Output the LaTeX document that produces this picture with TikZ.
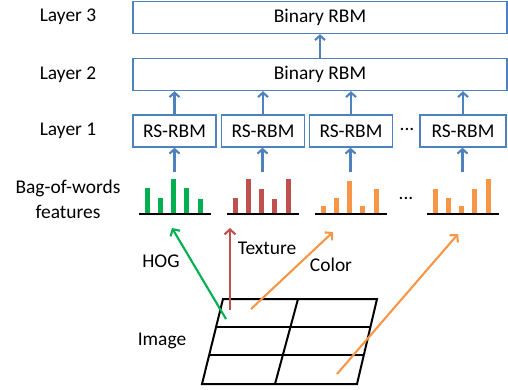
\documentclass[tikz,border=0pt]{standalone}
\usepackage{fontspec}
\setmainfont{Carlito}
\usetikzlibrary{arrows.meta, positioning, calc}

\definecolor{rbmblue}{HTML}{4F81BD}
\definecolor{hoggreen}{HTML}{00B050}
\definecolor{texred}{HTML}{C0504D}
\definecolor{colorange}{HTML}{F79646}

% bag-of-words histogram: name, left x, colour, bar heights
\newcommand{\bowhist}[4]{%
  \draw[histline] (#2,214) -- ++(72,0);
  \foreach \h [count=\i from 0] in {#4}
    \fill[#3] ({#2+5.5+13.3*\i},213) rectangle ++(5,-\h);
  \coordinate (#1) at ({#2+35.5},172);
}

\begin{document}
\begin{tikzpicture}[
  x=1bp, y=-1bp,
  font=\fontsize{19.5}{25}\selectfont,
  rbm/.style={
    rectangle, draw=rbmblue, line width=1.4bp, inner sep=0pt,
    minimum height=32bp
  },
  widerbm/.style={rbm, minimum width=374bp},
  rsrbm/.style={rbm, minimum width=83bp},
  up/.style={line width=2.1bp, draw=rbmblue, -{Straight Barb[length=4.5bp,width=10bp]}},
  feat/.style={line width=2.1bp, -{Straight Barb[length=5bp,width=11bp]}},
  caption/.style={align=center, inner sep=0pt},
  histline/.style={line width=2bp, black},
  grid/.style={line width=2bp, black}
]
\useasboundingbox (0,0) rectangle (508,389);

% Layer boxes
\node[widerbm] (layer3) at (320,17.5) {Binary RBM};
\node[widerbm] (layer2) at (320,74.5) {Binary RBM};
\node[rsrbm] (rs1) at (174.5,131) {RS-RBM};
\node[rsrbm] (rs2) at (263,131) {RS-RBM};
\node[rsrbm] (rs3) at (351,131) {RS-RBM};
\node[rsrbm, minimum width=86bp] (rs4) at (463,131) {RS-RBM};
\node[caption] (rsdots) at (407,129) {...};

% Layer names
\node[caption] (l3) at (68,17) {Layer 3};
\node[caption] (l2) at (68,75) {Layer 2};
\node[caption] (l1) at (68,131) {Layer 1};
\node[caption] (bow) at (68,199) {Bag-of-words\\features};

% Histograms
\bowhist{h1}{139}{hoggreen}{25,15,34,25,14}
\bowhist{h2}{227}{texred}{15,34,24,14,34}
\bowhist{h3}{315}{colorange}{7,15,32,7,24}
\bowhist{h4}{427}{colorange}{24,15,7,24,34}
\node[caption] (hdots) at (406,198) {...};

% Upward arrows
\draw[up] (layer2.north) -- (layer3.south);
\foreach \k in {1,...,4}{
  \draw[up] (h\k) -- (h\k |- rs\k.south);
  \draw[up] (rs\k.north) -- (rs\k.north |- layer2.south);
}

% Image grid
\coordinate (tl) at (223,299);
\coordinate (tr) at (377,299);
\coordinate (bl) at (202,384);
\coordinate (br) at (357,384);
\draw[grid] (tl) -- (tr) -- (br) -- (bl) -- cycle;
\draw[grid] ($(tl)!0.33!(bl)$) -- ($(tr)!0.33!(br)$);
\draw[grid] ($(tl)!0.66!(bl)$) -- ($(tr)!0.66!(br)$);
\draw[grid] (298,299) -- (275,384);
\node[caption] (img) at (162,341) {Image};

% Feature extraction arrows
\coordinate (hogS) at (226,319);
\coordinate (hogE) at (172,228);
\coordinate (texS) at (230,310);
\coordinate (texE) at (230,228);
\coordinate (colS) at (251,309);
\coordinate (colE) at (333,232);
\coordinate (lastS) at (337,374);
\coordinate (lastE) at (458,234);
\draw[feat, hoggreen] (hogS) -- (hogE);
\draw[feat, texred] (texS) -- (texE);
\draw[feat, colorange] (colS) -- (colE);
\draw[feat, colorange] (lastS) -- (lastE);
\node[caption] (hog) at (161,261) {HOG};
\node[caption] (tex) at (267,248) {Texture};
\node[caption] (col) at (331,265) {Color};

\end{tikzpicture}
\end{document}
